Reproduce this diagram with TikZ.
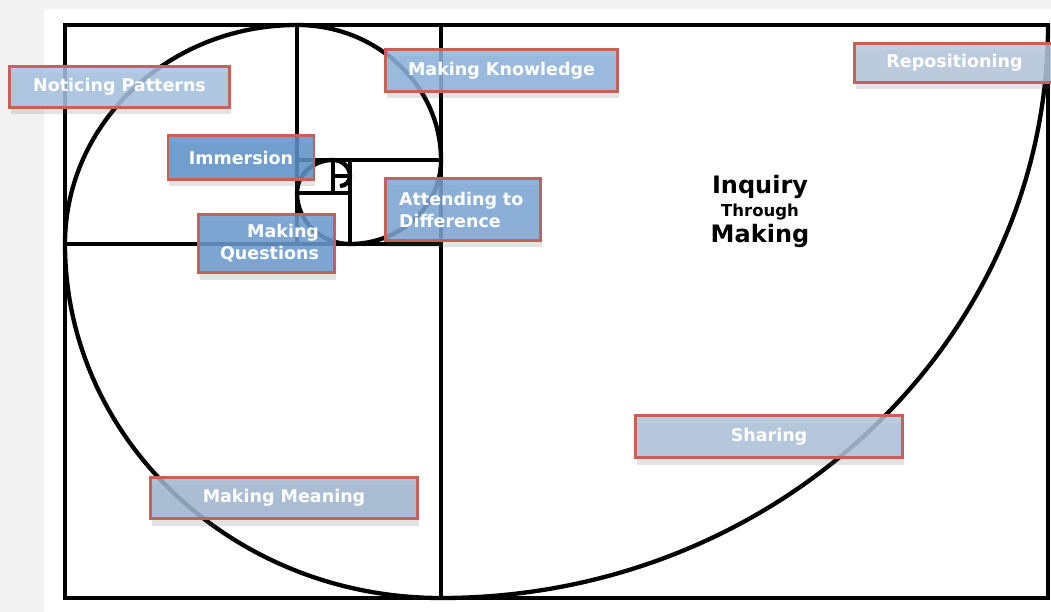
\documentclass[tikz,border=0pt]{standalone}
\usepackage{fontspec}
\setsansfont{DejaVu Sans}
\usetikzlibrary{shadows}

\definecolor{boxred}{HTML}{C8605A}
\definecolor{npfill}{HTML}{A7C2E1}
\definecolor{mkfill}{HTML}{8EB3DD}
\definecolor{rpfill}{HTML}{B6C7DA}
\definecolor{imfill}{HTML}{5E93CA}
\definecolor{adfill}{HTML}{7DA6D5}
\definecolor{mqfill}{HTML}{6A9BD0}
\definecolor{shfill}{HTML}{AFC3DA}
\definecolor{mmfill}{HTML}{A1B7D0}

\begin{document}
\begin{tikzpicture}[x=1pt,y=-1pt,
    grid/.style={line width=3.2pt, line cap=square},
    spiral/.style={line width=4.3pt},
    lbl/.style={rectangle,
                draw = boxred,
                line width = 2.8pt,
                fill opacity = 0.85,
                text opacity = 1,
                text = white,
                inner sep = 0pt,
                font = \sffamily\bfseries\fontsize{17.5}{22}\selectfont,
                drop shadow = {shadow xshift=1pt, shadow yshift=-7pt,
                               opacity=0.18, fill=black!60}}]

    \useasboundingbox (0,0) rectangle (1051,612);
    \fill[black!5] (0,0) rectangle (1051,612);
    \fill[white] (44,9) rectangle (1051,612);

    % golden rectangle
    \draw[grid] (65,25) rectangle (1048,598);
    \draw[grid] (441,25) -- (441,598);
    \draw[grid] (65,244) -- (441,244);
    \draw[grid] (297,25) -- (297,244);
    \draw[grid] (297,160) -- (441,160);
    \draw[grid] (350,160) -- (350,244);
    \draw[grid] (297,193) -- (350,193);
    \draw[grid] (333,160) -- (333,193);
    \draw[grid] (333,176) -- (350,176);

    % spiral
    \draw[spiral] (1048,25)
      arc[start angle=0,   end angle=90,  x radius=607, y radius=573]
      arc[start angle=90,  end angle=180, x radius=376, y radius=354]
      arc[start angle=180, end angle=270, x radius=232, y radius=219]
      arc[start angle=270, end angle=360, x radius=144, y radius=135]
      arc[start angle=0,   end angle=90,  x radius=91,  y radius=84]
      arc[start angle=90,  end angle=180, x radius=53,  y radius=51]
      arc[start angle=180, end angle=270, x radius=36,  y radius=33]
      arc[start angle=270, end angle=360, x radius=17,  y radius=16]
      arc[start angle=0,   end angle=90,  x radius=10,  y radius=10];

    \node[lbl,
          fill = npfill,
          minimum width = 220pt,
          minimum height = 41pt
          ] (noticing) at (119.5,87) {Noticing Patterns};

    \node[lbl,
          fill = mkfill,
          minimum width = 232pt,
          minimum height = 42pt
          ] (knowledge) at (501.5,70.5) {Making Knowledge};

    \node[lbl,
          fill = rpfill,
          minimum width = 200pt,
          minimum height = 39pt
          ] (repos) at (954.5,63) {Repositioning};

    \node[lbl,
          fill = imfill,
          minimum width = 146pt,
          minimum height = 44pt
          ] (immersion) at (241,157.5) {Immersion};

    \node[lbl,
          fill = adfill,
          align = left,
          text width = 128pt,
          inner xsep = 13.5pt,
          minimum height = 62pt
          ] (attending) at (463,209.5) {Attending to\\Difference};

    \node[lbl,
          fill = mqfill,
          align = right,
          text width = 105pt,
          inner xsep = 15.5pt,
          minimum height = 58pt
          ] (questions) at (266.5,243.5) {Making\\Questions};

    \node[lbl,
          fill = shfill,
          minimum width = 267pt,
          minimum height = 42pt
          ] (sharing) at (769,436.5) {Sharing};

    \node[lbl,
          fill = mmfill,
          minimum width = 267pt,
          minimum height = 41pt
          ] (meaning) at (284,498) {Making Meaning};

    % centre title
    \node[anchor=base, font=\sffamily\bfseries\fontsize{24}{28}\selectfont]
        (inquiry) at (760,194) {Inquiry};
    \node[anchor=base, font=\sffamily\bfseries\fontsize{16.5}{19}\selectfont]
        (through) at (760,217) {Through};
    \node[anchor=base, font=\sffamily\bfseries\fontsize{24}{28}\selectfont]
        (making) at (760,243) {Making};

\end{tikzpicture}
\end{document}
